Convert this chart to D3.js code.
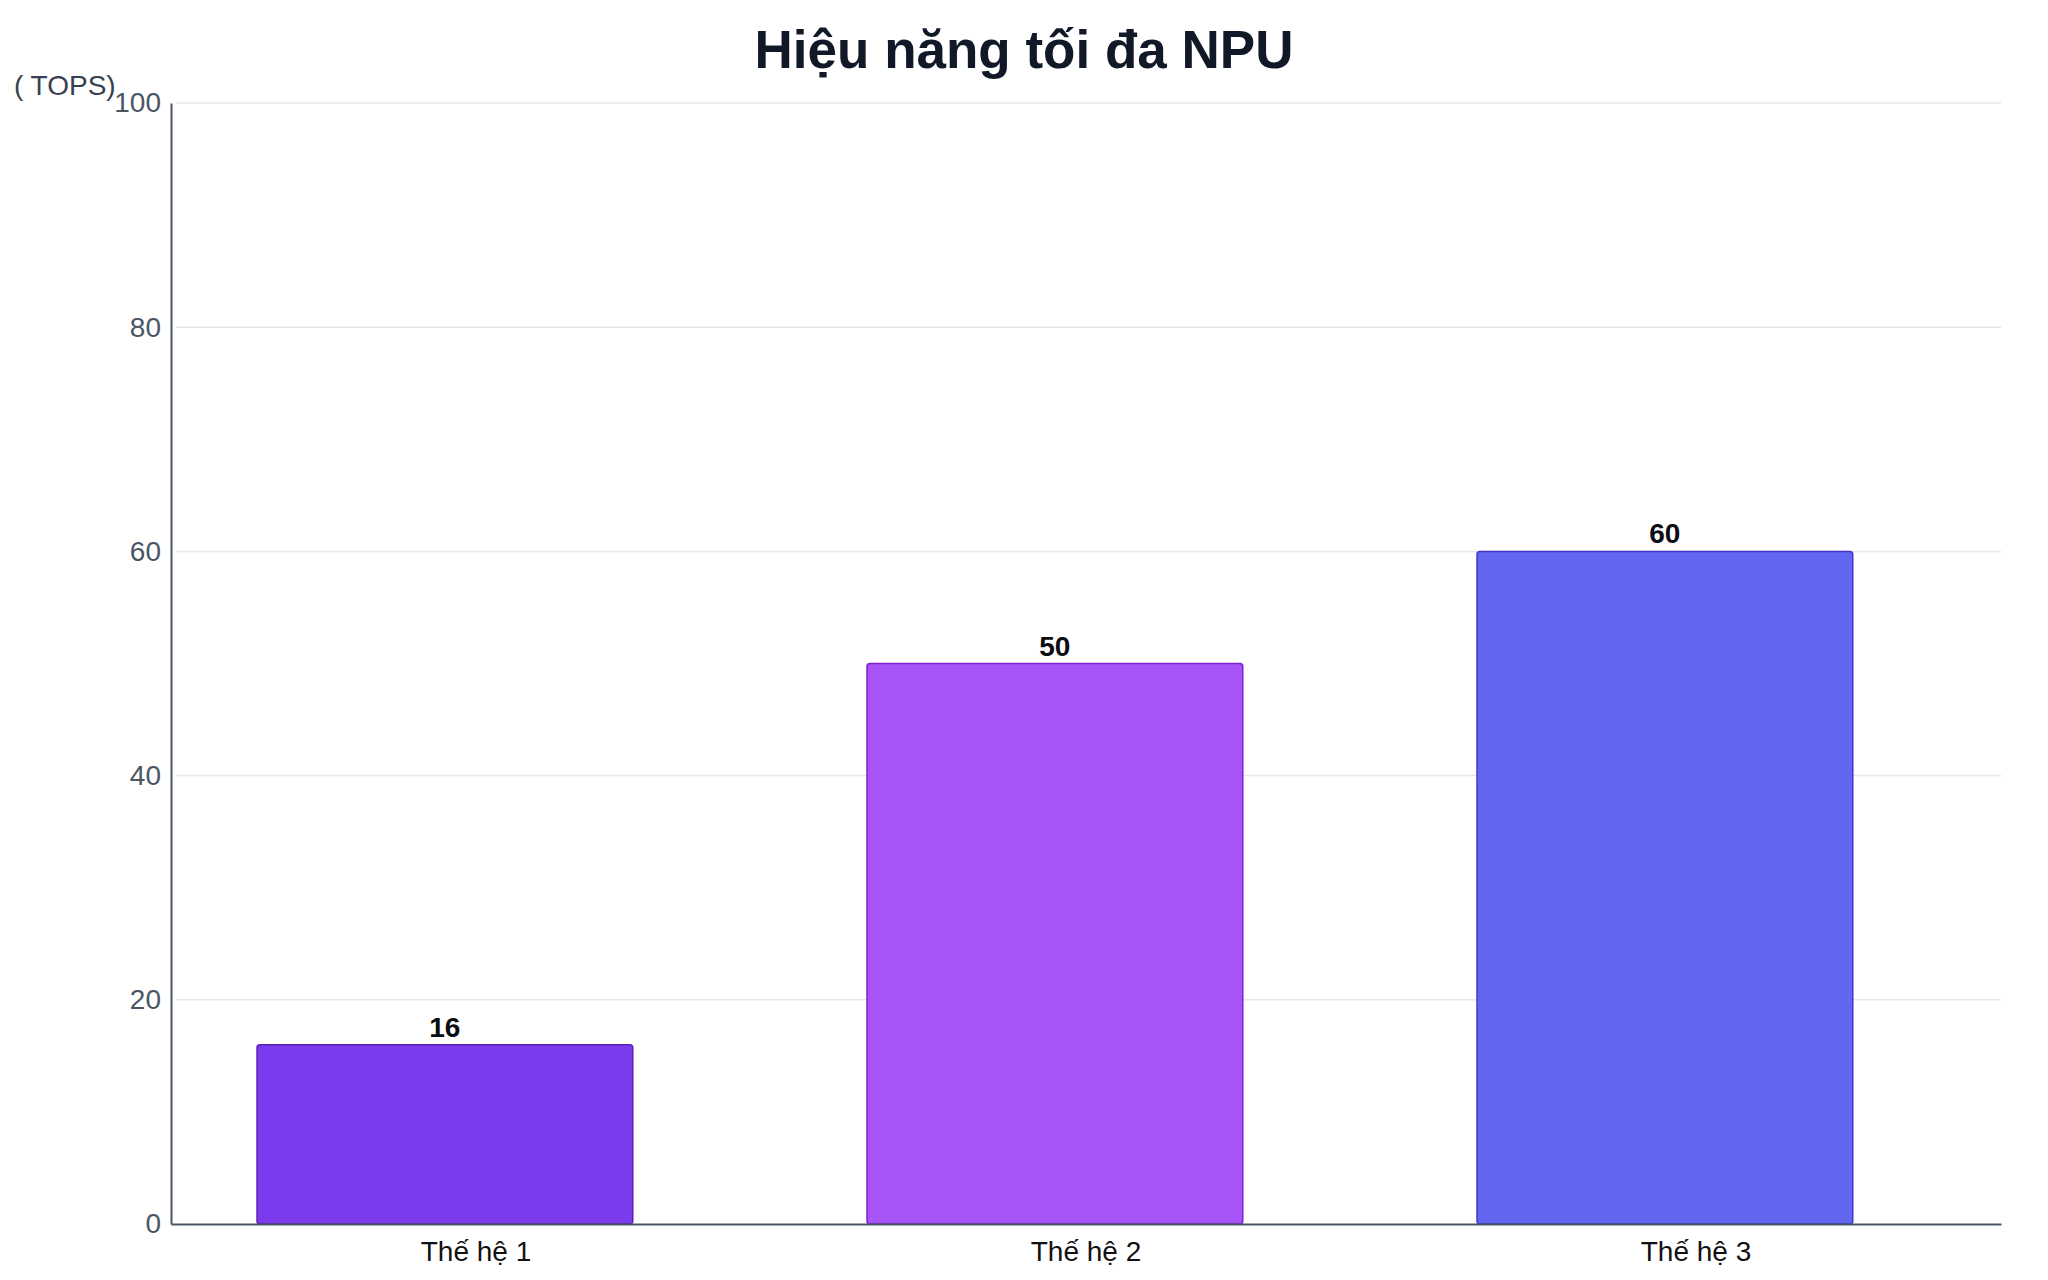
<!DOCTYPE html>
<html>
<head>
<meta charset="utf-8">
<script src="https://cdn.jsdelivr.net/npm/d3@7"></script>
<style>
  body { margin: 0; background: #fff; }
  svg { display: block; font-family: "Liberation Sans", Arial, sans-serif; }
</style>
</head>
<body>
<div id="chart"></div>
<script>
// data
const categories = ['Thế hệ 1', 'Thế hệ 2', 'Thế hệ 3'];
const values = [16, 50, 60];
const barColors = ['#7c3aed', '#a855f7', '#6366f1'];
const barStrokes = ['#5b21b6', '#7e22ce', '#4338ca'];
const yTicks = [0, 20, 40, 60, 80, 100];
const title = 'Hiệu năng tối đa NPU';
const unitLabel = '( TOPS)';

const width = 2048, height = 1280;
const margin = { top: 103, right: 47, bottom: 56, left: 171 };

const svg = d3.select('#chart').append('svg')
  .attr('width', width)
  .attr('height', height);

const xScale = d3.scaleBand()
  .domain(categories)
  .range([margin.left, width - margin.right])
  .padding(0);

const yScale = d3.scaleLinear()
  .domain([0, 100])
  .range([height - margin.bottom, margin.top]);

// gridlines
svg.append('g')
  .selectAll('line')
  .data(yTicks.filter(d => d > 0))
  .enter()
  .append('line')
  .attr('x1', margin.left + 5)
  .attr('x2', width - margin.right)
  .attr('y1', d => yScale(d))
  .attr('y2', d => yScale(d))
  .attr('stroke', '#e5e7eb')
  .attr('stroke-width', 1.5);

// bars (offset left of band centre, like the original)
const bw = xScale.bandwidth();
svg.append('g')
  .selectAll('rect')
  .data(values)
  .enter()
  .append('rect')
  .attr('x', (d, i) => xScale(categories[i]) + bw * 0.141)
  .attr('y', d => yScale(d))
  .attr('width', bw * 0.616)
  .attr('height', d => yScale(0) - yScale(d))
  .attr('rx', 3)
  .attr('fill', (d, i) => barColors[i])
  .attr('stroke', (d, i) => barStrokes[i])
  .attr('stroke-width', 1.5);

// value labels
svg.append('g')
  .selectAll('text')
  .data(values)
  .enter()
  .append('text')
  .attr('x', (d, i) => xScale(categories[i]) + bw * 0.141 + bw * 0.308)
  .attr('y', d => yScale(d) - 8)
  .attr('text-anchor', 'middle')
  .attr('font-size', 28)
  .attr('font-weight', 'bold')
  .attr('fill', '#0b0b12')
  .text(d => d);

// y axis
const yAxis = d3.axisLeft(yScale).tickValues(yTicks).tickSize(0).tickPadding(10);
const gy = svg.append('g')
  .attr('transform', `translate(${margin.left},0)`)
  .call(yAxis);
gy.select('.domain').attr('stroke', '#4b5563').attr('stroke-width', 2);
gy.selectAll('text')
  .attr('font-size', 28)
  .attr('font-family', '"Liberation Sans", Arial, sans-serif')
  .attr('fill', '#4b5563');

// x axis
const xAxis = d3.axisBottom(xScale).tickSize(0).tickPadding(17);
const gx = svg.append('g')
  .attr('transform', `translate(0,${height - margin.bottom})`)
  .call(xAxis);
gx.select('.domain').attr('stroke', '#4b5563').attr('stroke-width', 2);
gx.selectAll('text')
  .attr('font-size', 28)
  .attr('font-family', '"Liberation Sans", Arial, sans-serif')
  .attr('fill', '#111111');

// unit label
svg.append('text')
  .attr('x', 14)
  .attr('y', 95)
  .attr('font-size', 28)
  .attr('fill', '#374151')
  .text(unitLabel);

// title
svg.append('text')
  .attr('x', width / 2)
  .attr('y', 68)
  .attr('text-anchor', 'middle')
  .attr('font-size', 53)
  .attr('font-weight', 'bold')
  .attr('fill', '#111827')
  .text(title);
</script>
</body>
</html>
